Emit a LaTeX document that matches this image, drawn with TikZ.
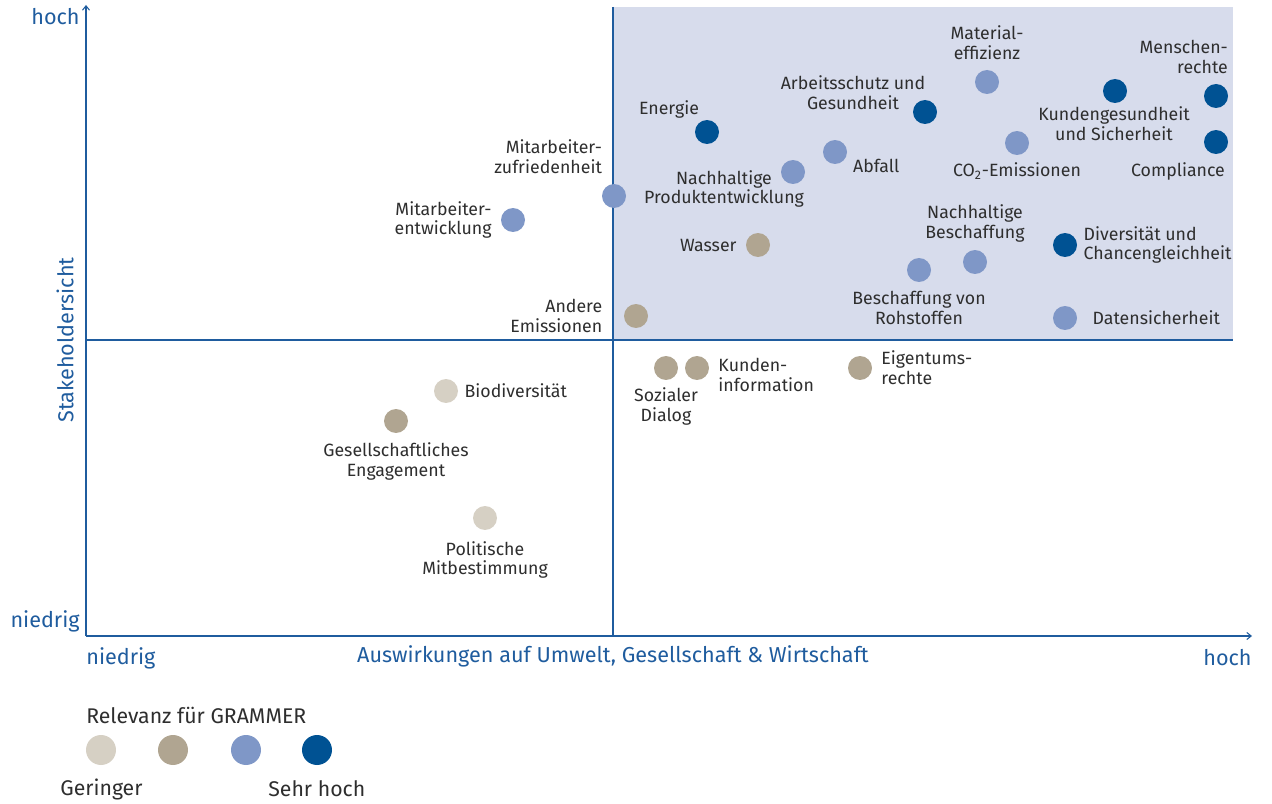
\documentclass[tikz,border=0pt]{standalone}
\usepackage{fontspec}
\setmainfont{Fira Sans}
\usetikzlibrary{positioning,arrows.meta}
\definecolor{axisblue}{HTML}{1F5C9E}
\definecolor{areafill}{HTML}{D7DCEC}
\definecolor{relA}{HTML}{D6D0C4}
\definecolor{relB}{HTML}{B0A591}
\definecolor{relC}{HTML}{7F97C7}
\definecolor{relD}{HTML}{005293}
\definecolor{textgray}{HTML}{2E2E2E}

\begin{document}
\begin{tikzpicture}[x=0.02cm,y=-0.02cm,
        dot/.style={circle, inner sep=0pt, minimum size=0.48cm},
        dotA/.style={dot, fill=relA},
        dotB/.style={dot, fill=relB},
        dotC/.style={dot, fill=relC},
        dotD/.style={dot, fill=relD},
        legdot/.style={circle, inner sep=0pt, minimum size=0.6cm},
        lbl/.style={font=\fontsize{10.1}{11.2}\selectfont, text=textgray, inner sep=1pt, align=center},
        axislbl/.style={font=\fontsize{12.3}{14}\selectfont, text=axisblue, inner sep=0pt},
        leglbl/.style={font=\fontsize{12.1}{14}\selectfont, text=textgray, inner sep=0pt},
        axis/.style={axisblue, line width=0.6pt}]

    \useasboundingbox (0,0) rectangle (1272,804);

    % quadrant
    \fill[areafill] (613,7) rectangle (1233,340);
    \coordinate (origin) at (86,636);
    \coordinate (ytop) at (86,5);
    \coordinate (xend) at (1252,636);
    \coordinate (midtop) at (613,7);
    \coordinate (midbot) at (613,636);
    \coordinate (midleft) at (86,340);
    \coordinate (midright) at (1233,340);
    \draw[axis] (midtop) -- (midbot);
    \draw[axis] (midleft) -- (midright);
    \draw[axis, -{Straight Barb[length=2.5pt, width=4pt]}] (origin) -- (ytop);
    \draw[axis, -{Straight Barb[length=2.5pt, width=4pt]}] (origin) -- (xend);

    % axis labels
    \node[axislbl, anchor=east] (yhigh) at (80,17) {hoch};
    \node[axislbl, anchor=east] (ylow) at (80,621) {niedrig};
    \node[axislbl, anchor=west] (xlow) at (86,658) {niedrig};
    \node[axislbl] (xtitle) at (613,656) {Auswirkungen auf Umwelt, Gesellschaft \& Wirtschaft};
    \node[axislbl, anchor=east] (xhigh) at (1252,658) {hoch};
    \node[axislbl, rotate=90] (ytitle) at (65,340) {Stakeholdersicht};

    % topics
    \node[dotD] (menschen) at (1216,96) {};
    \node[dotD] (compl) at (1216,142) {};
    \node[dotD] (kunden) at (1115,91) {};
    \node[dotC] (material) at (987,82) {};
    \node[dotD] (arbeit) at (925,112) {};
    \node[dotC] (cotwo) at (1017,143) {};
    \node[dotD] (energie) at (707,132) {};
    \node[dotC] (abfall) at (835,152) {};
    \node[dotC] (produkt) at (793,172) {};
    \node[dotC] (zufried) at (614,196) {};
    \node[dotC] (entw) at (513,220) {};
    \node[dotB] (wasser) at (758,245) {};
    \node[dotC] (beschaff) at (975,262) {};
    \node[dotC] (rohstoff) at (919,270) {};
    \node[dotD] (divers) at (1065,245) {};
    \node[dotC] (daten) at (1065,318) {};
    \node[dotB] (emiss) at (636,316) {};
    \node[dotB] (dialog) at (666,368) {};
    \node[dotB] (kinfo) at (697,368) {};
    \node[dotB] (eigentum) at (860,368) {};
    \node[dotA] (biodiv) at (446,391) {};
    \node[dotB] (engage) at (396,421) {};
    \node[dotA] (politik) at (485,518) {};

    \node[lbl, anchor=east, align=right] (menschenlbl) at (1230,57) {Menschen-\\rechte};
    \node[lbl] (compllbl) at (1178,171) {Compliance};
    \node[lbl] (kundenlbl) at (1114,124) {Kundengesundheit\\und Sicherheit};
    \node[lbl, above=4.5pt of material] (materiallbl) {Material-\\effizienz};
    \node[lbl] (arbeitlbl) at (853,93) {Arbeitsschutz und\\Gesundheit};
    \node[lbl, below=3pt of cotwo] (cotwolbl) {CO\textsubscript{2}-Emissionen};
    \node[lbl] (energielbl) at (669,109) {Energie};
    \node[lbl, anchor=west] (abfalllbl) at (851,166) {Abfall};
    \node[lbl] (produktlbl) at (724,189) {Nachhaltige\\Produktentwicklung};
    \node[lbl, anchor=east, align=right] (zufriedlbl) at (604,157) {Mitarbeiter-\\zufriedenheit};
    \node[lbl, left=4pt of entw, align=right] (entwlbl) {Mitarbeiter-\\entwicklung};
    \node[lbl, left=4pt of wasser] (wasserlbl) {Wasser};
    \node[lbl, above=3pt of beschaff] (beschafflbl) {Nachhaltige\\Beschaffung};
    \node[lbl, below=4pt of rohstoff] (rohstofflbl) {Beschaffung von\\Rohstoffen};
    \node[lbl, right=2.4pt of divers, align=left] (diverslbl) {Diversität und\\Chancengleichheit};
    \node[lbl, right=7.5pt of daten] (datenlbl) {Datensicherheit};
    \node[lbl, left=11pt of emiss, align=right] (emisslbl) {Andere\\Emissionen};
    \node[lbl, below=3pt of dialog] (dialoglbl) {Sozialer\\Dialog};
    \node[lbl, right=4pt of kinfo, align=left, yshift=-4pt] (kinfolbl) {Kunden-\\information};
    \node[lbl, right=4pt of eigentum, align=left] (eigentumlbl) {Eigentums-\\rechte};
    \node[lbl, right=2.4pt of biodiv] (biodivlbl) {Biodiversität};
    \node[lbl, below=4pt of engage] (engagelbl) {Gesellschaftliches\\Engagement};
    \node[lbl, below=5pt of politik] (politiklbl) {Politische\\Mitbestimmung};

    % legend
    \node[leglbl, anchor=west] (legtitle) at (86,715) {Relevanz für GRAMMER};
    \node[legdot, fill=relA] (legA) at (101,750) {};
    \node[legdot, fill=relB] (legB) at (173,750) {};
    \node[legdot, fill=relC] (legC) at (246,750) {};
    \node[legdot, fill=relD] (legD) at (317,750) {};
    \node[leglbl, anchor=west] (leglow) at (60,789) {Geringer};
    \node[leglbl, anchor=west] (leghigh) at (268,789) {Sehr hoch};
\end{tikzpicture}
\end{document}
